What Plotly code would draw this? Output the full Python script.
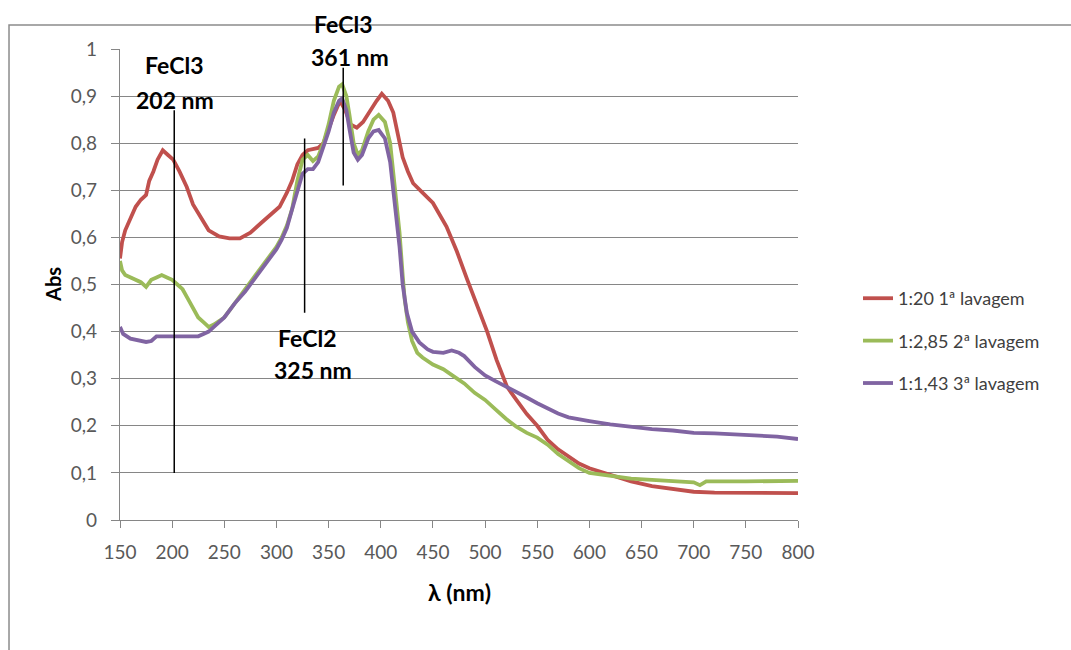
import plotly.graph_objects as go

# ---- data ----
red_x = [150,152,155,160,165,170,175,178,182,186,191,196,201,207,214,220,227,235,245,255,265,275,285,295,303,310,315,320,325,330,340,345,350,355,361,366,371,377,383,390,396,401,407,412,416,421,426,431,440,450,463,473,483,492,502,511,521,530,540,550,560,570,580,590,600,620,640,660,680,700,720,750,780,800]
red_y = [0.555,0.59,0.615,0.64,0.665,0.68,0.69,0.72,0.74,0.765,0.785,0.775,0.765,0.74,0.707,0.67,0.643,0.615,0.602,0.598,0.598,0.61,0.63,0.65,0.665,0.695,0.72,0.755,0.775,0.785,0.79,0.80,0.83,0.86,0.89,0.87,0.84,0.833,0.845,0.87,0.89,0.905,0.89,0.865,0.82,0.77,0.74,0.715,0.695,0.673,0.623,0.57,0.51,0.46,0.40,0.34,0.283,0.255,0.225,0.2,0.17,0.15,0.135,0.12,0.11,0.095,0.082,0.072,0.065,0.06,0.058,0.058,0.058,0.057]

green_x = [150,152,155,160,165,170,175,180,185,190,195,200,205,210,215,220,225,230,235,240,250,260,270,280,290,300,305,310,315,320,325,330,335,340,345,350,355,360,363,367,370,374,378,382,388,393,398,404,409,412,415,418,421,423,426,430,435,440,450,460,470,480,490,500,510,520,530,540,550,560,570,580,590,600,620,640,660,680,700,706,712,750,800]
green_y = [0.55,0.53,0.52,0.515,0.51,0.505,0.495,0.51,0.515,0.52,0.515,0.51,0.5,0.49,0.47,0.45,0.43,0.42,0.41,0.415,0.43,0.46,0.49,0.52,0.55,0.58,0.60,0.625,0.66,0.72,0.765,0.775,0.762,0.772,0.80,0.84,0.89,0.92,0.925,0.90,0.86,0.80,0.775,0.785,0.825,0.85,0.86,0.845,0.80,0.74,0.68,0.61,0.52,0.467,0.42,0.38,0.355,0.345,0.33,0.32,0.305,0.29,0.27,0.255,0.235,0.215,0.198,0.185,0.175,0.16,0.14,0.125,0.11,0.10,0.093,0.088,0.085,0.083,0.08,0.074,0.082,0.082,0.083]

purple_x = [150,153,160,170,175,180,185,195,205,215,225,230,235,240,250,260,270,280,290,300,305,310,315,320,325,330,335,340,345,350,355,360,363,367,370,374,378,382,388,393,398,404,409,412,415,418,421,425,430,437,445,450,460,468,475,480,490,500,510,520,530,540,550,560,570,580,590,600,620,640,660,680,700,720,740,760,780,800]
purple_y = [0.41,0.395,0.385,0.38,0.378,0.38,0.39,0.39,0.39,0.39,0.39,0.395,0.40,0.41,0.43,0.46,0.485,0.515,0.545,0.575,0.595,0.62,0.66,0.70,0.735,0.745,0.745,0.76,0.79,0.825,0.865,0.89,0.895,0.87,0.83,0.78,0.765,0.775,0.81,0.825,0.828,0.81,0.76,0.70,0.64,0.58,0.50,0.44,0.40,0.377,0.362,0.357,0.355,0.36,0.355,0.348,0.325,0.307,0.295,0.284,0.272,0.26,0.248,0.236,0.226,0.218,0.213,0.21,0.203,0.197,0.193,0.19,0.185,0.184,0.182,0.18,0.177,0.172]

series_names = ["1:20 1ª lavagem", "1:2,85 2ª lavagem", "1:1,43 3ª lavagem"]
colors = ["#C0504D", "#9BBB59", "#8064A2"]

marker_x = [202, 327, 364]
marker_y0 = [0.10, 0.44, 0.71]
marker_y1 = [0.87, 0.81, 0.96]

# peak labels: (line 1, line 2), x in nm, y of each line in paper units
label_line1 = ["FeCl3", "FeCl2", "FeCl3"]
label_line2 = ["202 nm", "325 nm", "361 nm"]
label_x1 = [202.7, 330.2, 364.7]
label_x2 = [202.7, 335.0, 370.5]
label_y1 = [0.966, 0.386, 1.053]
label_y2 = [0.892, 0.318, 0.983]

FONT = "Lato, 'Open Sans', sans-serif"

fig = go.Figure()
for i, (xs, ys) in enumerate([(red_x, red_y), (green_x, green_y), (purple_x, purple_y)]):
    fig.add_trace(go.Scatter(x=xs, y=ys, mode="lines", name=series_names[i],
                             line=dict(color=colors[i], width=3.8),
                             legendgroup=str(i)))

for x, y0, y1 in zip(marker_x, marker_y0, marker_y1):
    fig.add_trace(go.Scatter(x=[x, x], y=[y0, y1], mode="lines",
                             line=dict(color="black", width=1.5),
                             showlegend=False, hoverinfo="skip"))

for t1, t2, x1, x2, y1, y2 in zip(label_line1, label_line2, label_x1, label_x2, label_y1, label_y2):
    fig.add_annotation(x=x1, y=y1, yref="paper", text="<b>%s</b>" % t1, showarrow=False,
                       font=dict(size=23, color="black", family=FONT), xanchor="center", yanchor="middle")
    fig.add_annotation(x=x2, y=y2, yref="paper", text="<b>%s</b>" % t2, showarrow=False,
                       font=dict(size=23, color="black", family=FONT), xanchor="center", yanchor="middle")

fig.add_annotation(xref="paper", yref="paper", x=-0.0988, y=0.499, text="<b>Abs</b>",
                   xanchor="center", yanchor="middle",
                   textangle=-90, showarrow=False, font=dict(size=20, color="black", family=FONT))
fig.add_annotation(xref="paper", yref="paper", x=0.5, y=-0.1529, text="<b>λ (nm)</b>",
                   xanchor="center", yanchor="middle",
                   showarrow=False, font=dict(size=23, color="black", family=FONT))

# outer chart frame (left and top edges)
fig.add_shape(type="path", xref="paper", yref="paper",
              path="M -0.1637,-0.30 L -0.1637,1.051 L 1.42,1.051",
              line=dict(color="#8c8c8c", width=1.5))

fig.update_layout(
    width=1071, height=650,
    margin=dict(l=120, r=273, t=49, b=130),
    paper_bgcolor="white", plot_bgcolor="white",
    separators=",.",
    font=dict(family=FONT, size=19, color="#595959"),
    showlegend=True,
    legend=dict(x=1.0885, y=0.380, xanchor="left", yanchor="middle",
                font=dict(size=18, color="#404040", family=FONT),
                tracegroupgap=16, bgcolor="rgba(0,0,0,0)"),
    xaxis=dict(range=[150, 800], dtick=50, tick0=150, showgrid=False, zeroline=False,
               showline=True, linecolor="#868686", linewidth=1.2,
               ticks="outside", ticklen=7, tickcolor="#868686",
               ticklabelstandoff=8,
               tickfont=dict(size=19, color="#595959")),
    yaxis=dict(range=[0, 1], dtick=0.1, showgrid=True, gridcolor="#868686", gridwidth=1.2,
               zeroline=False, showline=True, linecolor="#868686", linewidth=1.2,
               ticks="outside", ticklen=8, tickcolor="#868686",
               ticklabelstandoff=10,
               tickfont=dict(size=19, color="#595959")),
)

fig.write_html("out.html")
